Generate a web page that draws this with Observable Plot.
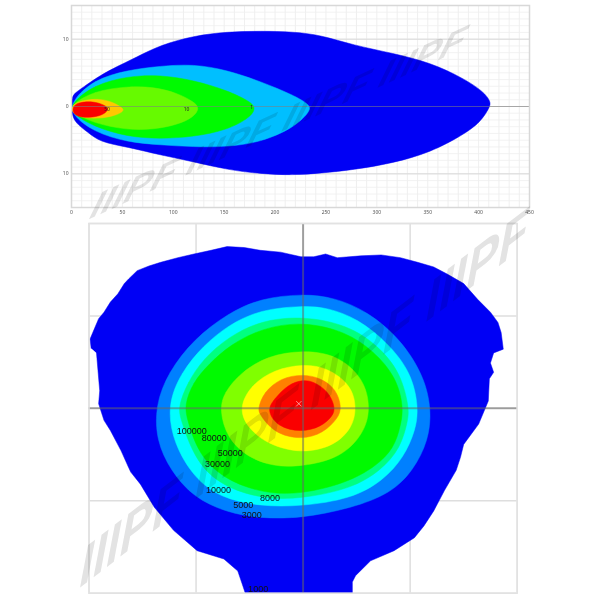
<!DOCTYPE html>
<html><head><meta charset="utf-8">
<script src="https://cdn.jsdelivr.net/npm/d3@7"></script>
<script src="https://cdn.jsdelivr.net/npm/@observablehq/plot@0.6"></script>
<style>
html,body{margin:0;padding:0;background:#fff}
#stage{position:relative;width:600px;height:600px;overflow:hidden;background:#fff}
#stage>svg{position:absolute;left:0;background:transparent}
.wm{position:absolute;white-space:nowrap;font-family:"Liberation Sans",sans-serif;font-weight:bold;font-style:italic;color:#b4b4b4;opacity:.38;mix-blend-mode:multiply;transform-origin:0 50%;line-height:1}
</style></head><body><div id="stage"></div>
<script>
// ---- top chart: side view (distance m, spread m)
const sideX = [0,50,100,150,200,250,300,350,400,450];
const sideY = [-10,0,10];
const sideMinorX = d3.range(0,451,10);
const sideMinorY = d3.range(-15,16,1);
const sideColors = ["#0000f5","#00bfff","#00fa00","#66fa00","#ffc800","#fa0000"];
const sideBlue = [[0,1],[2,1.9],[12,2.9],[24,4.2],[40,5.6],[65,7.4],[87,9.1],[120,10.5],[153,11.1],[186,11.2],[218,11.1],[245,10.6],[277,9.1],[316,7.9],[353,6.5],[385,4.2],[405,2.2],[412,0.7],[411,-0.1],[402,-2.3],[385,-4.2],[353,-6.8],[316,-8.4],[277,-9.4],[245,-9.9],[218,-10.2],[186,-10],[153,-9.4],[120,-8.2],[87,-7.2],[55,-6],[28,-5.3],[16,-3.8],[4,-2.5],[0,-1]];
const sideSky = [[0,0.8],[22,4],[55,5.4],[87,6],[120,6.3],[153,5.4],[186,3.7],[218,1.7],[235,0.2],[234,-0.8],[218,-3.2],[186,-5.3],[153,-6],[120,-6],[87,-5.7],[55,-5.3],[22,-3.8],[0,-1.2]];
const sideGreen = [[0,0.5],[22,3.2],[55,4.5],[87,4.7],[120,3.9],[153,2.4],[176,0.7],[181,-0.2],[176,-1.6],[153,-3.5],[120,-4.5],[87,-4.8],[55,-4.5],[22,-3],[0,-1]];
const sideLime = [[0,0.3],[22,2.3],[55,3],[81,2.9],[104,2],[120,0.7],[126,-0.2],[120,-1.6],[104,-2.7],[81,-3.4],[55,-3.5],[22,-2.5],[0,-0.8]];
const sideGold = [[0,0.1],[9,0.9],[28,1.2],[41,0.6],[48,0],[52,-0.5],[48,-1],[41,-1.4],[28,-1.8],[9,-1.7],[0,-0.8]];
const sideRed = [[1,-0.4],[3,0.2],[7,0.6],[21,0.8],[33,0.2],[37,-0.4],[31,-1.3],[17,-1.7],[6,-1.5],[2,-1]];
const sideLabels = [["50",35,-0.4],["10",113,-0.5],["1",177,-0.1]];

// ---- bottom chart: front view (horizontal m, vertical m)
const frontGrid = [-20,-10,0,10,20];
const frontColors = ["#0000f5","#0080ff","#00ffff","#00ff80","#00fa00","#80ff00","#ffff00","#ff8000","#fa0000"];
const frontOuter = [[-19.8,6.5],[-19.9,7.5],[-19.5,8.6],[-19.1,9.7],[-18.6,10.4],[-18,11.5],[-17.3,12.4],[-16.7,13.5],[-16.3,14],[-15.5,14.9],[-14.4,15.4],[-13.3,15.8],[-11.7,16.3],[-10.2,16.7],[-8.6,17.1],[-7.1,17.5],[-5.5,17.4],[-4,17.1],[-2.1,16.9],[-0.2,16.4],[1,16.4],[2.1,16.7],[3.2,16.3],[5.4,16.5],[7.3,16.6],[9.1,16.3],[10.7,15.8],[12.2,15.3],[13.5,14.5],[15,13.5],[16.3,11.8],[17.5,10.4],[18.2,9.3],[18.5,8.2],[18.7,6.4],[17.8,6],[17.5,4.9],[17.8,3.9],[17.4,3.2],[17.3,0.8],[16.4,-1.7],[15,-3.9],[14.7,-5.3],[14.3,-6.7],[13.2,-8.9],[12.2,-11.1],[11.3,-12.7],[10.4,-14],[8.5,-15.4],[6.3,-16.5],[4.9,-18.1],[4.6,-18.8],[4.6,-20],[-5.4,-20],[-6.1,-17.6],[-7.4,-16.3],[-9.9,-15.4],[-12.1,-13.2],[-13.9,-10.7],[-15.2,-8.2],[-16.1,-6.9],[-16.3,-6.4],[-17,-4.6],[-18,-2.4],[-18.6,-1.3],[-19.1,0.5],[-19,1.9],[-19.3,6]];
const front3000 = [[-13.8,0.3],[-12.6,3.9],[-10.2,7.5],[-7,10.3],[-4,11.9],[0,12.4],[2.9,12],[6,10.5],[9.1,7.5],[11.3,3.5],[12,-0.2],[11.7,-3.5],[10.3,-6.7],[8.2,-9.2],[4.5,-10.8],[-0.2,-11.9],[-4,-11.9],[-7,-11.3],[-10.2,-9.7],[-12.4,-6.7],[-13.7,-3.5]];
const front5000 = [[-12.7,0.3],[-11.4,3.9],[-9.3,6.8],[-7,9],[-4,10.7],[0,11.1],[2.3,10.9],[5.1,9.7],[7.9,7.1],[10.1,3.9],[10.8,0.1],[10.5,-2.4],[9.4,-5.3],[7.5,-7.8],[4.5,-9.8],[-0.2,-10.6],[-4,-10.6],[-7.7,-9.7],[-10.2,-7.5],[-12.1,-3.8]];
const front8000 = [[-11.7,0.1],[-10.8,2.8],[-9.3,5.4],[-7,7.7],[-4,9.5],[0,10],[4.2,9],[7,6.8],[9.1,3.9],[9.9,0.1],[9.8,-1.3],[9.1,-4.3],[7.3,-6.7],[4.5,-8.7],[-0.2,-9.8],[-4,-9.8],[-8,-8.2],[-10.2,-5.3],[-11.4,-1.3]];
const front10000 = [[-11.1,0.3],[-10.3,2.8],[-8.8,4.8],[-6.8,6.9],[-3.8,8.7],[0,9.4],[4,8.3],[6.6,6.2],[8.7,3.4],[9.4,0.1],[9.1,-1.9],[8.5,-4.3],[6.8,-6.3],[4,-8.1],[-0.2,-9.3],[-3.8,-9.2],[-7.5,-7.6],[-9.8,-4.9],[-10.8,-1.3]];
const front30000 = [[-7.8,-0.2],[-7.4,1.7],[-5.8,3.9],[-3.3,5.7],[0,6.3],[3.2,5.8],[5.7,3.2],[6.3,0],[5.7,-2.7],[3.5,-5.4],[-0.2,-6.3],[-2.7,-6.3],[-5.2,-5.3],[-7.1,-3.2]];
const front50000 = [[-6,0],[-4.9,2.5],[-2.7,4.2],[0,4.8],[2.3,4.4],[4.5,2.5],[5,0.1],[4.6,-2.1],[2.9,-4.1],[-0.2,-4.9],[-3.3,-3.9],[-5.2,-2.1]];
const front80000 = [[-4.2,0],[-3.7,1.7],[-2.1,3.3],[0,3.7],[1.6,3.3],[3.1,2.1],[3.6,0.1],[3.3,-1],[1.9,-2.7],[-0.2,-3.4],[-2.7,-2.7],[-4.1,-0.6]];
const front100000 = [[-3.4,-0.2],[-2.7,1],[-1.4,2.6],[0,3.1],[1,2.9],[2.4,1.8],[3,0.1],[2.8,-0.8],[1.7,-2],[-0.2,-2.6],[-2.4,-2]];
const frontLabels = [["100000",-10.4,-2.5],["80000",-8.3,-3.2],["50000",-6.8,-4.8],["30000",-8.0,-6.0],["10000",-7.9,-8.9],["8000",-3.1,-9.7],["5000",-5.6,-10.5],["3000",-4.8,-11.6],["1000",-4.2,-19.6]];
const watermarkText = "IIIPF";

const stage = document.getElementById("stage");
const poly = (pts, fill, curve) => Plot.line(pts, {x:d=>d[0], y:d=>d[1], fill, stroke:fill, strokeWidth:0.5, curve, clip:true});

const top_ = Plot.plot({
  width:600, height:220, marginLeft:71, marginRight:71, marginTop:5, marginBottom:13,
  style:{background:"transparent"},
  x:{domain:[0,450]},
  y:{domain:[-15,15]},
  marks:[
    Plot.ruleX(sideMinorX,{stroke:"#ebebeb",strokeWidth:0.8}),
    Plot.ruleY(sideMinorY,{stroke:"#efefef",strokeWidth:0.8}),
    Plot.ruleY(sideY,{stroke:"#d8d8d8",strokeWidth:1}),
    poly(sideBlue,sideColors[0],"basis-closed"),
    poly(sideSky,sideColors[1],"basis-closed"),
    poly(sideGreen,sideColors[2],"basis-closed"),
    poly(sideLime,sideColors[3],"basis-closed"),
    poly(sideGold,sideColors[4],"basis-closed"),
    poly(sideRed,sideColors[5],"basis-closed"),
    Plot.ruleY([0],{stroke:"#808080",strokeOpacity:0.7,strokeWidth:0.8}),
    Plot.text(sideLabels,{x:d=>d[1],y:d=>d[2],text:d=>d[0],fontSize:5,fill:"#222"}),
    Plot.frame({stroke:"#d8d8d8",strokeWidth:1.5}),
    Plot.axisX({ticks:sideX,tickSize:0,tickPadding:3,fontSize:5,fill:"#555",tickFormat:d=>d,label:null}),
    Plot.axisY({ticks:sideY,tickSize:0,tickPadding:3,fontSize:5,fill:"#555",tickFormat:d=>Math.abs(d),label:null})
  ]
});
top_.style.top="0px";
stage.appendChild(top_);

const bot = Plot.plot({
  width:600, height:385, marginLeft:88.5, marginRight:83.3, marginTop:8, marginBottom:7.3,
  style:{background:"transparent"},
  x:{domain:[-20,20], axis:null},
  y:{domain:[-20,20], axis:null},
  marks:[
    Plot.ruleX(frontGrid,{stroke:"#dedede",strokeWidth:1.5}),
    Plot.ruleY(frontGrid,{stroke:"#dedede",strokeWidth:1.5}),
    poly(frontOuter,frontColors[0],"linear"),
    poly(front3000,frontColors[1],"basis-closed"),
    poly(front5000,frontColors[2],"basis-closed"),
    poly(front8000,frontColors[3],"basis-closed"),
    poly(front10000,frontColors[4],"basis-closed"),
    poly(front30000,frontColors[5],"basis-closed"),
    poly(front50000,frontColors[6],"basis-closed"),
    poly(front80000,frontColors[7],"basis-closed"),
    poly(front100000,frontColors[8],"basis-closed"),
    Plot.ruleX([0],{stroke:"#666",strokeOpacity:0.55,strokeWidth:2}),
    Plot.ruleY([0],{stroke:"#666",strokeOpacity:0.55,strokeWidth:2}),
    Plot.dot([[-0.4,0.5]],{x:d=>d[0],y:d=>d[1],symbol:"times",r:2.5,stroke:"#fff",strokeOpacity:0.7,strokeWidth:0.8}),
    Plot.text(frontLabels,{x:d=>d[1],y:d=>d[2],text:d=>d[0],fontSize:9,fontFamily:"Liberation Sans",fill:"#111"}),
    Plot.frame({stroke:"#e2e2e2",strokeWidth:1.5})
  ]
});
bot.style.top="215px";
stage.appendChild(bot);

function watermark(left, top, angle, size, repeat, stretch){
  const s=document.createElement("div");
  s.className="wm";
  s.textContent=Array(repeat).fill(watermarkText).join(" ");
  s.style.left=left+"px"; s.style.top=(top-size/2)+"px";
  s.style.fontSize=size+"px";
  s.style.transform=`rotate(${angle}deg) scaleX(${stretch}) skewX(-30deg)`;
  stage.appendChild(s);
}
watermark(92,208,-24.5,28,4,1.58);
watermark(80,570,-37.5,42,4,1.45);
</script></body></html>
